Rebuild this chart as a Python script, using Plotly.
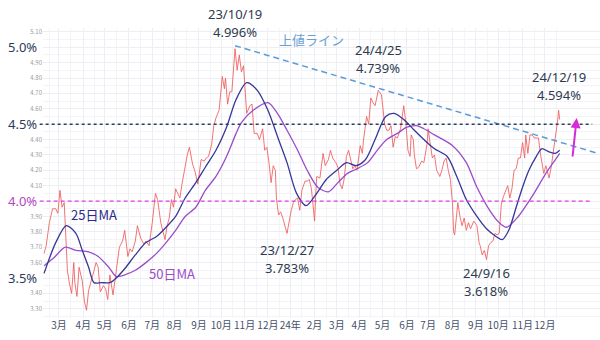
import plotly.graph_objects as go
import pandas as pd

# ---- data (US 10Y yield, daily-ish samples) ----
red_dates = [
    "2023-02-09","2023-02-13","2023-02-16","2023-02-21","2023-02-24","2023-02-28",
    "2023-03-02","2023-03-06","2023-03-08","2023-03-10","2023-03-13","2023-03-15","2023-03-17","2023-03-21","2023-03-22","2023-03-24","2023-03-28","2023-03-31",
    "2023-04-04","2023-04-06","2023-04-10","2023-04-14","2023-04-19","2023-04-21","2023-04-25","2023-04-28",
    "2023-05-02","2023-05-04","2023-05-08","2023-05-11","2023-05-15","2023-05-19","2023-05-24","2023-05-26","2023-05-31",
    "2023-06-02","2023-06-06","2023-06-09","2023-06-13","2023-06-16","2023-06-21","2023-06-23","2023-06-28","2023-06-30",
    "2023-07-03","2023-07-06","2023-07-10","2023-07-13","2023-07-17","2023-07-19","2023-07-21","2023-07-25","2023-07-27","2023-07-31",
    "2023-08-02","2023-08-04","2023-08-08","2023-08-10","2023-08-14","2023-08-17","2023-08-21","2023-08-24","2023-08-28","2023-08-31",
    "2023-09-05","2023-09-08","2023-09-12","2023-09-14","2023-09-19","2023-09-21","2023-09-25","2023-09-28",
    "2023-10-03","2023-10-05","2023-10-06","2023-10-10","2023-10-12","2023-10-16","2023-10-19","2023-10-23","2023-10-25","2023-10-27","2023-10-31",
    "2023-11-02","2023-11-03","2023-11-08","2023-11-10","2023-11-14","2023-11-17","2023-11-21","2023-11-24","2023-11-28","2023-11-30",
    "2023-12-04","2023-12-06","2023-12-08","2023-12-12","2023-12-13","2023-12-15","2023-12-19","2023-12-21","2023-12-27","2023-12-29",
    "2024-01-02","2024-01-04","2024-01-08","2024-01-10","2024-01-12","2024-01-16","2024-01-19","2024-01-23","2024-01-25","2024-01-29","2024-01-31",
    "2024-02-01","2024-02-02","2024-02-05","2024-02-08","2024-02-13","2024-02-15","2024-02-20","2024-02-22","2024-02-26","2024-02-29",
    "2024-03-04","2024-03-06","2024-03-08","2024-03-12","2024-03-14","2024-03-18","2024-03-20","2024-03-22","2024-03-26","2024-03-28",
    "2024-04-02","2024-04-04","2024-04-05","2024-04-10","2024-04-12","2024-04-16","2024-04-18","2024-04-22","2024-04-25","2024-04-30",
    "2024-05-01","2024-05-03","2024-05-07","2024-05-09","2024-05-13","2024-05-15","2024-05-17","2024-05-21","2024-05-24","2024-05-29","2024-05-31",
    "2024-06-04","2024-06-06","2024-06-07","2024-06-11","2024-06-12","2024-06-14","2024-06-18","2024-06-21","2024-06-25","2024-06-28",
    "2024-07-01","2024-07-03","2024-07-05","2024-07-09","2024-07-11","2024-07-16","2024-07-18","2024-07-22","2024-07-24","2024-07-26","2024-07-30",
    "2024-08-01","2024-08-02","2024-08-05","2024-08-08","2024-08-12","2024-08-14","2024-08-16","2024-08-20","2024-08-22","2024-08-26","2024-08-29",
    "2024-09-03","2024-09-05","2024-09-06","2024-09-10","2024-09-12","2024-09-16","2024-09-18","2024-09-20","2024-09-24","2024-09-26","2024-09-30",
    "2024-10-02","2024-10-04","2024-10-08","2024-10-10","2024-10-14","2024-10-16","2024-10-18","2024-10-22","2024-10-24","2024-10-28","2024-10-30",
    "2024-11-01","2024-11-05","2024-11-06","2024-11-08","2024-11-12","2024-11-14","2024-11-18","2024-11-20","2024-11-22","2024-11-26","2024-11-29",
    "2024-12-03","2024-12-05","2024-12-06","2024-12-10","2024-12-12","2024-12-16","2024-12-18","2024-12-19","2024-12-20",
]
red_vals = [
    3.66,3.71,3.86,3.95,3.95,3.92,
    4.07,3.96,3.99,3.70,3.55,3.46,3.40,3.60,3.47,3.38,3.57,3.48,
    3.35,3.29,3.42,3.52,3.60,3.57,3.41,3.45,
    3.43,3.36,3.52,3.39,3.50,3.70,3.74,3.81,3.64,
    3.69,3.67,3.74,3.84,3.76,3.72,3.74,3.71,3.84,
    3.86,4.05,4.01,3.86,3.81,3.75,3.84,3.89,4.01,3.96,
    4.08,4.05,4.02,4.11,4.19,4.30,4.35,4.24,4.20,4.11,
    4.27,4.26,4.28,4.29,4.37,4.49,4.54,4.59,
    4.81,4.73,4.80,4.63,4.71,4.71,4.99,4.85,4.95,4.84,4.88,
    4.67,4.57,4.62,4.63,4.44,4.44,4.40,4.47,4.33,4.35,
    4.25,4.12,4.23,4.20,4.02,3.91,3.93,3.89,3.79,3.87,
    3.94,3.99,4.01,4.02,3.94,4.07,4.13,4.13,4.14,4.08,3.92,
    3.87,4.03,4.16,4.15,4.31,4.23,4.27,4.33,4.28,4.25,
    4.22,4.11,4.08,4.15,4.29,4.33,4.27,4.21,4.23,4.20,
    4.36,4.31,4.39,4.55,4.50,4.67,4.64,4.62,4.72,4.69,
    4.63,4.50,4.46,4.46,4.49,4.35,4.42,4.41,4.47,4.62,4.51,
    4.33,4.29,4.43,4.40,4.30,4.21,4.22,4.26,4.25,4.37,
    4.47,4.37,4.28,4.30,4.20,4.16,4.20,4.26,4.28,4.20,4.14,
    3.98,3.80,3.78,3.99,3.90,3.84,3.89,3.81,3.86,3.82,3.87,
    3.84,3.73,3.71,3.65,3.68,3.62,3.71,3.73,3.74,3.79,3.78,
    3.79,3.98,4.03,4.07,4.10,4.02,4.08,4.20,4.21,4.28,4.28,
    4.38,4.28,4.43,4.31,4.43,4.43,4.41,4.41,4.41,4.30,4.18,
    4.23,4.17,4.15,4.22,4.32,4.40,4.52,4.59,4.53,
]

ma25_dates = [
    "2023-02-09","2023-02-24","2023-03-10","2023-03-23","2023-03-31","2023-04-10","2023-04-17","2023-04-26",
    "2023-05-08","2023-05-16","2023-05-26","2023-06-09","2023-06-23","2023-07-07","2023-07-20","2023-08-02",
    "2023-08-15","2023-08-29","2023-09-11","2023-09-25","2023-10-09","2023-10-20","2023-11-03","2023-11-17",
    "2023-12-01","2023-12-14","2023-12-27","2024-01-09","2024-01-22","2024-02-05","2024-02-16","2024-03-01",
    "2024-03-14","2024-03-27","2024-04-09","2024-04-22","2024-05-06","2024-05-16","2024-05-29","2024-06-12",
    "2024-06-25","2024-07-09","2024-07-25","2024-08-07","2024-08-20","2024-09-03","2024-09-16","2024-09-27",
    "2024-10-07","2024-10-15","2024-10-24","2024-11-01","2024-11-11","2024-11-20","2024-11-27","2024-12-06",
    "2024-12-16","2024-12-20",
]
ma25_vals = [
    3.53,3.73,3.84,3.79,3.68,3.57,3.47,3.47,
    3.47,3.50,3.56,3.65,3.73,3.77,3.83,3.90,
    4.02,4.12,4.22,4.33,4.48,4.66,4.77,4.72,
    4.59,4.42,4.25,4.05,3.97,4.05,4.14,4.20,
    4.25,4.23,4.27,4.40,4.55,4.57,4.53,4.46,
    4.40,4.34,4.29,4.16,4.01,3.90,3.82,3.77,
    3.75,3.81,3.96,4.09,4.20,4.29,4.34,4.32,
    4.31,4.33,
]

ma50_dates = [
    "2023-02-09","2023-02-22","2023-03-09","2023-03-23","2023-04-10","2023-04-21","2023-05-05","2023-05-16",
    "2023-05-26","2023-06-09","2023-06-23","2023-07-07","2023-07-20","2023-08-02","2023-08-15","2023-08-29",
    "2023-09-11","2023-09-25","2023-10-09","2023-10-20","2023-10-27","2023-11-13","2023-12-01","2023-12-14",
    "2023-12-27","2024-01-10","2024-01-23","2024-02-06","2024-02-20","2024-03-04","2024-03-15","2024-03-28",
    "2024-04-11","2024-04-24","2024-05-07","2024-05-21","2024-06-03","2024-06-14","2024-06-25","2024-07-09",
    "2024-08-01","2024-08-20","2024-09-03","2024-09-19","2024-10-02","2024-10-11","2024-10-28","2024-11-14",
    "2024-12-03","2024-12-16","2024-12-20",
]
ma50_vals = [
    3.58,3.63,3.70,3.68,3.67,3.64,3.57,3.51,
    3.52,3.55,3.60,3.66,3.73,3.81,3.90,3.96,
    4.07,4.16,4.29,4.44,4.51,4.59,4.64,4.57,
    4.46,4.33,4.20,4.09,4.06,4.12,4.18,4.21,
    4.25,4.33,4.40,4.44,4.48,4.49,4.47,4.43,
    4.36,4.25,4.09,3.94,3.86,3.83,3.90,4.03,
    4.18,4.27,4.31,
]

trend_dates = ["2023-10-19", "2025-02-10"]
trend_vals = [5.01, 4.31]

level_hi = 4.5
level_lo = 4.0

month_labels = ["3月","4月","5月","6月","7月","8月","9月","10月","11月","12月","24年",
                "2月","3月","4月","5月","6月","7月","8月","9月","10月","11月","12月"]

# small y tick labels (big percent labels drawn separately)
y_tickvals = [3.3,3.4,3.5,3.6,3.7,3.8,3.9,4.0,4.1,4.2,4.3,4.4,4.5,4.6,4.7,4.8,4.9,5.0,5.1]
y_ticktext = ["3.30","3.40","","3.60","3.70","3.80","3.90",
              "","4.10","4.20","4.30","4.40",
              "","4.60","4.70","4.80","4.90",
              "","5.10"]
big_vals = [5.0, 4.5, 4.0, 3.5]
big_text = ["5.0%", "4.5%", "4.0%", "3.5%"]
big_colors = ["#2c3a5e", "#2c3a5e", "#b544c4", "#2c3a5e"]

# point labels: date, value, date text, value text, anchor side, shift
point_labels = [
    ("2023-10-19", 4.996, "23/10/19", "4.996%", "above", 9),
    ("2024-04-25", 4.739, "24/4/25", "4.739%", "above", 12),
    ("2023-12-27", 3.783, "23/12/27", "3.783%", "below", 9),
    ("2024-09-16", 3.618, "24/9/16", "3.618%", "below", 6),
    ("2024-12-19", 4.594, "24/12/19", "4.594%", "above", 8),
]
LINE_GAP = 18

FONT = "Noto Sans CJK JP, Noto Sans, sans-serif"
NUM_FONT = "Noto Sans, sans-serif"

fig = go.Figure()
fig.add_trace(go.Scatter(x=red_dates, y=red_vals, mode="lines",
                         line=dict(color="rgba(238,92,92,0.85)", width=1)))
fig.add_trace(go.Scatter(x=ma50_dates, y=ma50_vals, mode="lines",
                         line=dict(color="#9a4cc9", width=1.3, shape="spline", smoothing=0.8)))
fig.add_trace(go.Scatter(x=ma25_dates, y=ma25_vals, mode="lines",
                         line=dict(color="#36369a", width=1.3, shape="spline", smoothing=0.8)))
fig.add_trace(go.Scatter(x=trend_dates, y=trend_vals, mode="lines",
                         line=dict(color="#5b9bd5", width=1.5, dash="6px,4px")))

fig.add_shape(type="line", xref="x domain", yref="y", x0=-0.006, x1=0.986,
              y0=level_hi, y1=level_hi, line=dict(color="#2d3e63", width=1.5, dash="3px,3px"))
fig.add_shape(type="line", xref="x domain", yref="y", x0=-0.006, x1=0.986,
              y0=level_lo, y1=level_lo, line=dict(color="#e03ce0", width=1.2, dash="4px,3px"))

for v, t, c in zip(big_vals, big_text, big_colors):
    fig.add_annotation(xref="paper", x=0, y=v, text=t, showarrow=False,
                       xanchor="right", xshift=-4, yanchor="middle",
                       font=dict(size=13, color=c, family=NUM_FONT))

lbl_font = dict(size=13, color="#2e3a4f", family=NUM_FONT)
for d, v, t1, t2, side, sh in point_labels:
    if side == "above":
        s2 = sh + 7
        s1 = s2 + LINE_GAP
    else:
        s1 = -(sh + 7)
        s2 = s1 - LINE_GAP
    fig.add_annotation(x=d, y=v, text=t1, showarrow=False, yanchor="middle", yshift=s1,
                       borderpad=0, font=lbl_font)
    fig.add_annotation(x=d, y=v, text=t2, showarrow=False, yanchor="middle", yshift=s2,
                       borderpad=0, font=lbl_font)

fig.add_annotation(x="2024-01-29", y=5.05, text="上値ライン", showarrow=False,
                   font=dict(size=13, color="#6a9fd4", family=FONT))
fig.add_annotation(x="2023-04-17", y=3.91, text="25日MA", showarrow=False,
                   font=dict(size=13, color="#2a2a8a", family=FONT))
fig.add_annotation(x="2023-07-28", y=3.53, text="50日MA", showarrow=False,
                   font=dict(size=13, color="#9a4cc9", family=FONT))
fig.add_annotation(x="2025-01-13", y=4.54, ax="2025-01-07", ay=4.28, axref="x", ayref="y",
                   text="", showarrow=True, arrowhead=2, arrowsize=1, arrowwidth=2,
                   arrowcolor="#d62bd6")

month_starts = pd.date_range("2023-03-01", "2024-12-31", freq="BMS")
mid_months = [d + pd.offsets.BDay(11) for d in pd.date_range("2023-02-01", "2024-12-31", freq="BMS")]

fig.update_layout(
    width=600, height=340,
    margin=dict(l=43, r=0, t=28, b=22),
    paper_bgcolor="white", plot_bgcolor="white",
    showlegend=False,
    font=dict(family=FONT),
    xaxis=dict(
        type="date",
        range=["2023-02-08", "2025-02-12"],
        rangebreaks=[dict(bounds=["sat", "mon"])],
        tickmode="array", tickvals=list(month_starts), ticktext=month_labels,
        tickangle=0,
        tickfont=dict(size=10, color="#44506a"),
        showgrid=True, gridcolor="#eceef3", gridwidth=1,
        minor=dict(tickmode="array", tickvals=mid_months, showgrid=True, gridcolor="#f3f4f7"),
        zeroline=False, showline=False, ticks="",
    ),
    yaxis=dict(
        range=[3.24, 5.125],
        tickmode="array", tickvals=y_tickvals, ticktext=y_ticktext,
        tickfont=dict(size=6, color="#999999"),
        showgrid=True, gridcolor="#eceef3", gridwidth=1,
        minor=dict(tickmode="linear", tick0=0, dtick=0.05, showgrid=True, gridcolor="#f3f4f7"),
        zeroline=False, showline=False, ticks="",
    ),
)

fig.write_html("out.html")
